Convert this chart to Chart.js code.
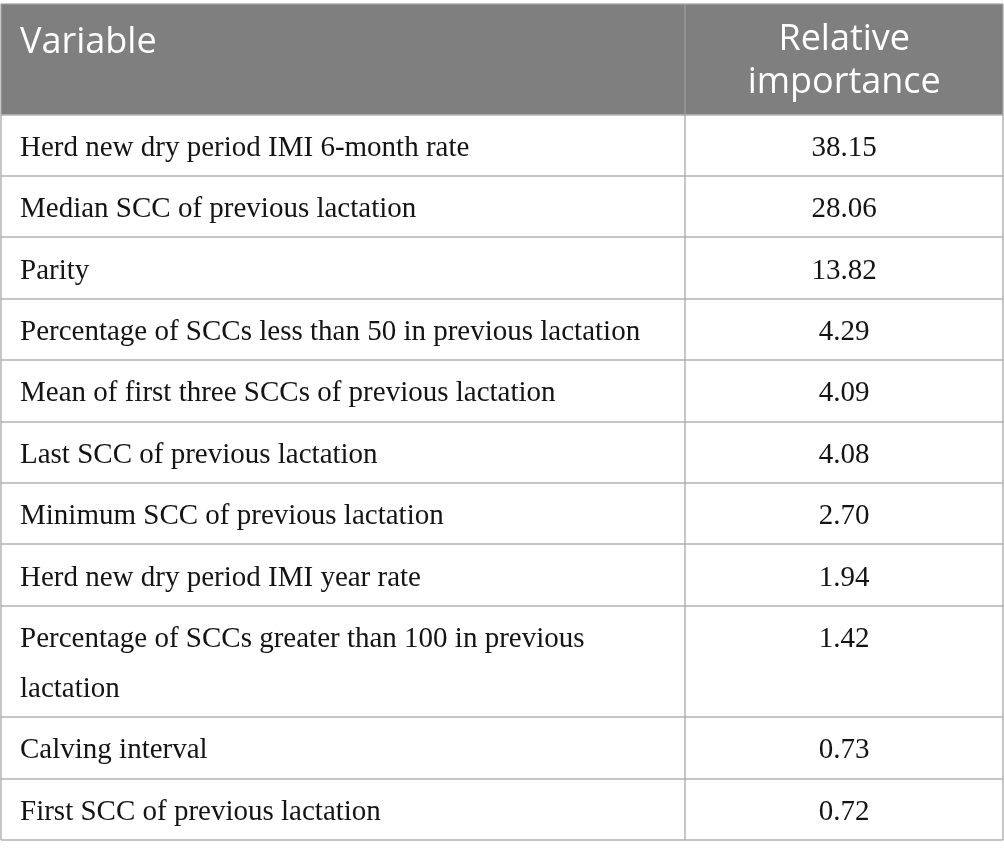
<!DOCTYPE html>
<html>
<head>
<meta charset="utf-8">
<script src="https://cdn.jsdelivr.net/npm/chart.js@4"></script>
<style>
  html, body { margin: 0; padding: 0; background: #fff; }
  #wrap { width: 1004px; height: 854px; position: relative; }
</style>
</head>
<body>
<div id="wrap"><canvas id="myChart"></canvas></div>
<script>
// table content
const headers = ["Variable", ["Relative", "importance"]];
const variables = [
  "Herd new dry period IMI 6-month rate",
  "Median SCC of previous lactation",
  "Parity",
  "Percentage of SCCs less than 50 in previous lactation",
  "Mean of first three SCCs of previous lactation",
  "Last SCC of previous lactation",
  "Minimum SCC of previous lactation",
  "Herd new dry period IMI year rate",
  ["Percentage of SCCs greater than 100 in previous", "lactation"],
  "Calving interval",
  "First SCC of previous lactation",
];
const importance = [38.15, 28.06, 13.82, 4.29, 4.09, 4.08, 2.70, 1.94, 1.42, 0.73, 0.72];

// row heights in "row units" (1 unit = one single-line body row)
const headerUnits = 1.8;
const extraLineUnits = 0.815;
const splitFrac = 0.6831; // column divider, fraction of table width

const lines = (t) => Array.isArray(t) ? t : [t];

let rowTops = [];
let bounds = [0, headerUnits];
let acc = headerUnits;
variables.forEach((v) => {
  rowTops.push(acc);
  acc += 1 + (lines(v).length - 1) * extraLineUnits;
  bounds.push(acc);
});
const totalUnits = acc;

const gridColor = "rgba(160,160,160,0.6)";

// draws header fill + all cell text
const tablePlugin = {
  id: "tableText",
  beforeDraw(chart) {
    const ctx = chart.ctx;
    const x = chart.scales.x, y = chart.scales.y;
    ctx.save();
    ctx.fillStyle = "#7f7f7f";
    const top = y.getPixelForValue(0);
    const bot = y.getPixelForValue(headerUnits);
    ctx.fillRect(x.getPixelForValue(0), top, x.getPixelForValue(1) - x.getPixelForValue(0), bot - top);
    ctx.restore();
  },
  afterDatasetsDraw(chart) {
    const ctx = chart.ctx;
    const x = chart.scales.x, y = chart.scales.y;
    const lineStep = y.getPixelForValue(extraLineUnits) - y.getPixelForValue(0);
    ctx.save();

    // header
    const top = y.getPixelForValue(0);
    ctx.fillStyle = "#ffffff";
    ctx.font = "36px 'Open Sans'";
    ctx.textBaseline = "alphabetic";
    ctx.textAlign = "left";
    ctx.fillText(headers[0], x.getPixelForValue(0) + 19, top + 48.5);
    ctx.textAlign = "center";
    const cx = x.getPixelForValue((splitFrac + 1) / 2);
    lines(headers[1]).forEach((t, k) => {
      ctx.fillText(t, cx, top + 45.5 + k * 43.5);
    });

    // body
    ctx.fillStyle = "#141414";
    ctx.font = "29px 'Liberation Serif'";
    const left = chart.getDatasetMeta(0).data;
    const right = chart.getDatasetMeta(1).data;
    ctx.textAlign = "left";
    left.forEach((pt, i) => {
      lines(variables[i]).forEach((t, k) => {
        ctx.fillText(t, pt.x + 19, pt.y + 10.5 + k * lineStep);
      });
    });
    ctx.textAlign = "center";
    right.forEach((pt, i) => {
      ctx.fillText(importance[i].toFixed(2), pt.x, pt.y + 10.5);
    });
    ctx.restore();
  },
};

const data = {
  datasets: [
    {
      label: "Variable",
      data: variables.map((v, i) => ({ x: 0, y: rowTops[i] + 0.5 })),
      pointRadius: 0,
      pointHitRadius: 0,
    },
    {
      label: "Relative importance",
      data: importance.map((v, i) => ({ x: (splitFrac + 1) / 2, y: rowTops[i] + 0.5 })),
      pointRadius: 0,
      pointHitRadius: 0,
    },
  ],
};

const config = {
  type: "scatter",
  data,
  plugins: [tablePlugin],
  options: {
    responsive: true,
    maintainAspectRatio: false,
    animation: false,
    events: [],
    layout: { padding: { top: 4, left: 1, right: 1, bottom: 14 } },
    plugins: { legend: { display: false }, tooltip: { enabled: false } },
    scales: {
      x: {
        type: "linear",
        min: 0,
        max: 1,
        afterBuildTicks: (scale) => {
          scale.ticks = [0, splitFrac, 1].map((v) => ({ value: v }));
        },
        ticks: { display: false },
        grid: { color: gridColor, lineWidth: 2, drawTicks: false },
        border: { display: false },
      },
      y: {
        type: "linear",
        reverse: true,
        min: 0,
        max: totalUnits,
        afterBuildTicks: (scale) => {
          scale.ticks = bounds.map((v) => ({ value: v }));
        },
        ticks: { display: false },
        grid: { color: gridColor, lineWidth: 2, drawTicks: false },
        border: { display: false },
      },
    },
  },
};

const myChart = new Chart(document.getElementById("myChart"), config);
</script>
</body>
</html>
